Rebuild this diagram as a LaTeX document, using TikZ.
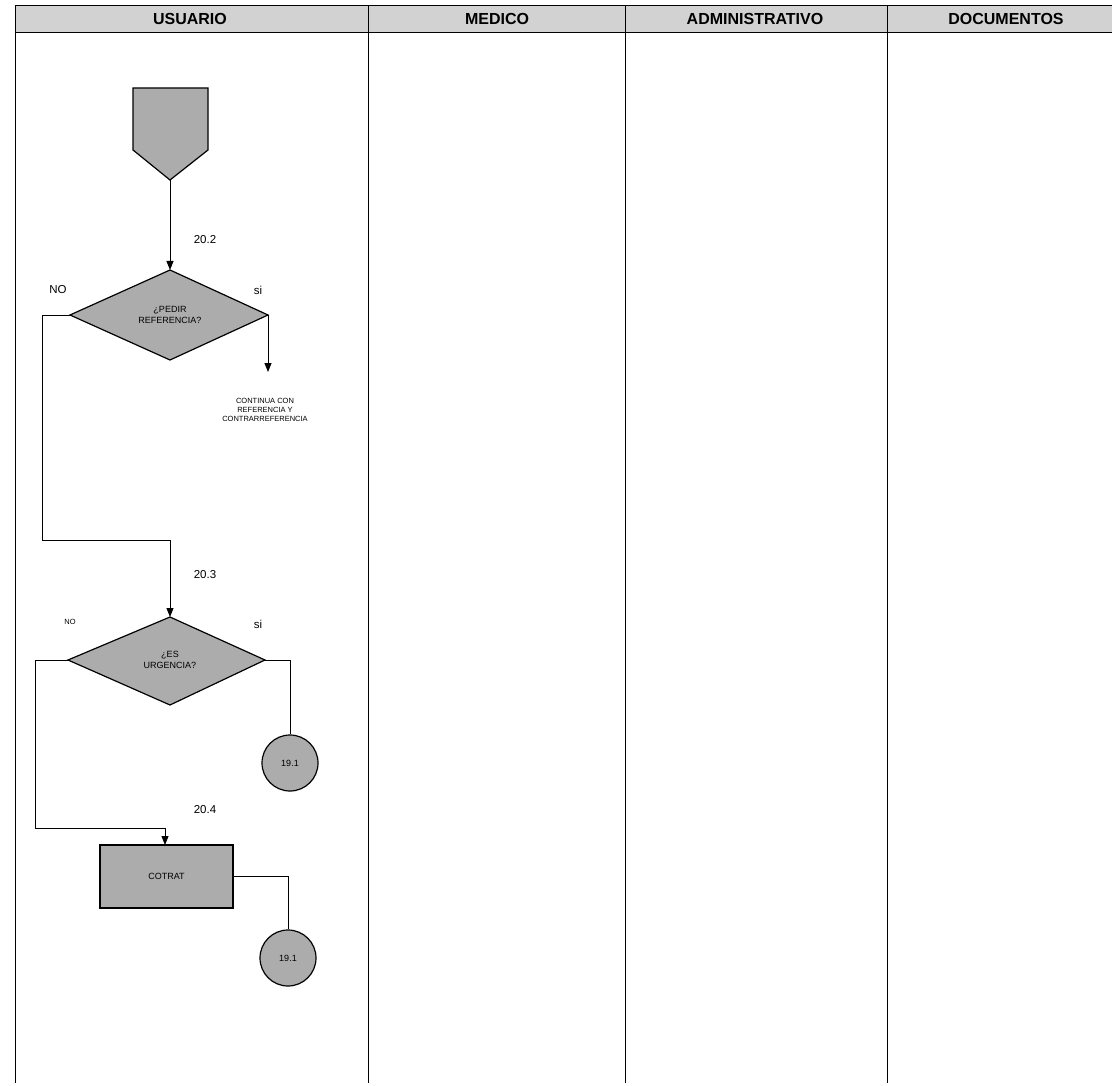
\documentclass[tikz,border=0pt]{standalone}
\usepackage{fontspec}
\setmainfont{Liberation Sans}
\usetikzlibrary{shapes.geometric,arrows.meta}
\begin{document}
\begin{tikzpicture}[x=1pt,y=-1pt,
  frame/.style={line width=1pt,draw=black},
  hdr/.style={font=\bfseries\fontsize{16}{18}\selectfont},
  shapefill/.style={draw=black,line width=1.2pt,fill=gray!65},
  conn/.style={draw=black,line width=0.9pt},
  arr/.style={conn,-{Triangle[length=9pt,width=7pt]}},
  lbl/.style={font=\fontsize{11.5}{13}\selectfont},
  small/.style={font=\fontsize{7.5}{9}\selectfont,align=center},
  intext/.style={font=\fontsize{9}{10.5}\selectfont,align=center}]
\useasboundingbox (0,0) rectangle (1112,1086);
% header
\fill[gray!35] (15,6) rectangle (1112,33);
\draw[frame] (15,6) -- (1112,6);
\draw[frame] (15,33) -- (1112,33);
\draw[frame] (15,6) -- (15,1083);
\draw[frame] (368,6) -- (368,1083);
\draw[frame] (625,6) -- (625,1083);
\draw[frame] (887,6) -- (887,1083);
\node[hdr] (hU) at (190,19) {USUARIO};
\node[hdr] (hM) at (497,19) {MEDICO};
\node[hdr] (hA) at (755,19) {ADMINISTRATIVO};
\node[hdr] (hD) at (1006,19) {DOCUMENTOS};
% off-page connector
\draw[shapefill] (133,88) -- (208,88) -- (208,150) -- (170,180) -- (133,150) -- cycle;
\coordinate (tip) at (170,180);
% diamond 1
\draw[shapefill] (170,270) -- (268,315) -- (170,360) -- (70,315) -- cycle;
\coordinate (d1t) at (170,270);
\coordinate (d1l) at (70,315);
\coordinate (d1r) at (268,315);
\node[intext] (d1) at (170,315) {¿PEDIR\\REFERENCIA?};
\draw[arr] (tip) -- (d1t);
\node[lbl] (l202) at (205,240) {20.2};
\node[lbl] (no1) at (58,290) {NO};
\node[lbl] (si1) at (258,290) {si};
\coordinate (c1e) at (268,372);
\draw[arr] (d1r) -- (c1e);
\node[small] (cont) at (265,410) {CONTINUA CON\\REFERENCIA Y\\CONTRARREFERENCIA};
% diamond 2
\draw[shapefill] (170,617) -- (265,660) -- (170,705) -- (68,660) -- cycle;
\coordinate (d2t) at (170,617);
\coordinate (d2l) at (68,660);
\coordinate (d2r) at (265,660);
\node[intext] (d2) at (170,660) {¿ES\\URGENCIA?};
\draw[arr] (d1l) -- (42,315) -- (42,540) -- (170,540) -- (d2t);
\node[lbl] (l203) at (205,575) {20.3};
\node[small] (no2) at (70,622) {NO};
\node[lbl] (si2) at (258,624) {si};
% circle 1
\node[circle,shapefill,minimum size=56pt,inner sep=0pt,intext] (c1) at (290,763) {19.1};
\draw[conn] (d2r) -- (290,660) -- (c1.north);
% box
\node[rectangle,shapefill,minimum width=133pt,minimum height=63pt,intext] (box) at (166.5,876.5) {COTRAT};
\draw[arr] (d2l) -- (35,660) -- (35,828) -- (165,828) -- (165,845);
\node[lbl] (l204) at (205,810) {20.4};
% circle 2
\node[circle,shapefill,minimum size=56pt,inner sep=0pt,intext] (c2) at (288,958) {19.1};
\draw[conn] (box.east) -- (288,876.5) -- (c2.north);
\end{tikzpicture}
\end{document}
